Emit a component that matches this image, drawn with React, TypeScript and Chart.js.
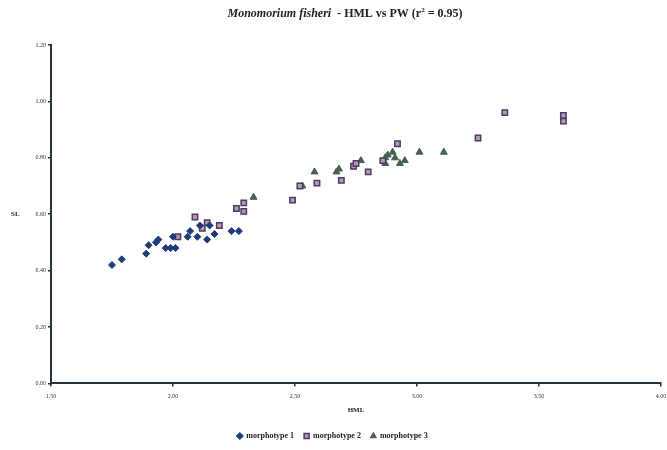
import React, { useEffect, useRef } from "react";
import { Chart, registerables } from "chart.js";

Chart.register(...registerables);

const m1X = [1.75, 1.79, 1.89, 1.90, 1.93, 1.94, 1.97, 1.99, 2.01, 2.00, 2.06, 2.07, 2.10, 2.11, 2.14, 2.15, 2.17, 2.24, 2.27];
const m1Y = [0.42, 0.44, 0.46, 0.49, 0.50, 0.51, 0.48, 0.48, 0.48, 0.52, 0.52, 0.54, 0.52, 0.56, 0.51, 0.56, 0.53, 0.54, 0.54];

const m2X = [2.02, 2.09, 2.12, 2.14, 2.19, 2.26, 2.29, 2.29, 2.49, 2.52, 2.59, 2.69, 2.74, 2.75, 2.80, 2.86, 2.92, 3.25, 3.36, 3.60, 3.60];
const m2Y = [0.52, 0.59, 0.55, 0.57, 0.56, 0.62, 0.64, 0.61, 0.65, 0.70, 0.71, 0.72, 0.77, 0.78, 0.75, 0.79, 0.85, 0.87, 0.96, 0.95, 0.93];

const m3X = [2.33, 2.53, 2.58, 2.68, 2.67, 2.77, 2.87, 2.87, 2.88, 2.90, 2.91, 2.93, 2.95, 3.01, 3.11];
const m3Y = [0.66, 0.70, 0.75, 0.76, 0.75, 0.79, 0.78, 0.80, 0.81, 0.82, 0.80, 0.78, 0.79, 0.82, 0.82];

const seriesNames = ["morphotype 1", "morphotype 2", "morphotype 3"];
const xTitle = "HML";
const yTitle = "SL";

const zip = (xs: number[], ys: number[]) => xs.map((x, i) => ({ x, y: ys[i] }));

const FONT = "'Liberation Serif', 'DejaVu Serif', serif";

const titlePlugin = {
  id: "mixedTitle",
  afterDraw(chart: any) {
    const ctx = chart.ctx;
    ctx.save();
    const parts = [
      { t: "Monomorium fisheri", f: `italic bold 12px ${FONT}`, dy: 0 },
      { t: "  - HML vs PW (r", f: `bold 12px ${FONT}`, dy: 0 },
      { t: "2", f: `bold 7px ${FONT}`, dy: -4 },
      { t: " = 0.95)", f: `bold 12px ${FONT}`, dy: 0 },
    ];
    let total = 0;
    for (const p of parts) {
      ctx.font = p.f;
      total += ctx.measureText(p.t).width;
    }
    let x = 345 - total / 2;
    const y = 14;
    ctx.fillStyle = "#222";
    ctx.textBaseline = "middle";
    for (const p of parts) {
      ctx.font = p.f;
      ctx.fillText(p.t, x, y + p.dy);
      x += ctx.measureText(p.t).width;
    }
    // y axis title
    ctx.font = `bold 7px ${FONT}`;
    ctx.textAlign = "left";
    ctx.fillText(yTitle, 11, chart.scales.y.getPixelForValue(0.6));
    ctx.restore();
  },
};

export default function App() {
  const ref = useRef<HTMLCanvasElement | null>(null);
  useEffect(() => {
    if (!ref.current) return;
    const axisColor = "#24343a";
    const chart = new Chart(ref.current, {
      type: "scatter",
      data: {
        datasets: [
          {
            label: seriesNames[0],
            data: zip(m1X, m1Y),
            pointStyle: "rectRot",
            pointRadius: 3.5,
            backgroundColor: "#1d3c78",
            borderColor: "#1d3c78",
            borderWidth: 1,
          },
          {
            label: seriesNames[1],
            data: zip(m2X, m2Y),
            pointStyle: "rect",
            pointRadius: 3.8,
            backgroundColor: "#b898b0",
            borderColor: "#4a3c62",
            borderWidth: 1.5,
          },
          {
            label: seriesNames[2],
            data: zip(m3X, m3Y),
            pointStyle: "triangle",
            pointRadius: 4,
            backgroundColor: "#475f4e",
            borderColor: "#475f4e",
            borderWidth: 1,
          },
        ],
      },
      options: {
        animation: false,
        responsive: false,
        maintainAspectRatio: false,
        layout: { padding: { top: 45, right: 2, left: 0, bottom: 0 } },
        plugins: {
          title: { display: false },
          tooltip: { enabled: false },
          legend: {
            position: "bottom",
            labels: {
              usePointStyle: true,
              boxWidth: 5,
              boxHeight: 5,
              padding: 10,
              color: "#222",
              font: { family: FONT, size: 8, weight: "bold" },
            },
          },
        },
        scales: {
          x: {
            type: "linear",
            min: 1.5,
            max: 4.0,
            ticks: {
              stepSize: 0.5,
              color: "#333",
              font: { family: FONT, size: 6 },
              padding: 6,
              callback: (v: any) => Number(v).toFixed(2),
            },
            grid: { drawOnChartArea: false, drawTicks: true, tickLength: 3, color: axisColor, lineWidth: 1.5 },
            border: { display: true, color: axisColor, width: 2 },
            title: {
              display: true,
              text: xTitle,
              color: "#222",
              font: { family: FONT, size: 7, weight: "bold" },
              padding: { top: 0, bottom: 8 },
            },
            afterFit: (s: any) => {
              s.paddingRight = 6;
            },
          },
          y: {
            type: "linear",
            min: 0,
            max: 1.2,
            ticks: {
              stepSize: 0.2,
              color: "#333",
              font: { family: FONT, size: 6 },
              padding: 2,
              callback: (v: any) => Number(v).toFixed(2),
            },
            grid: { drawOnChartArea: false, drawTicks: true, tickLength: 3, color: axisColor, lineWidth: 1.5 },
            border: { display: true, color: axisColor, width: 2 },
            afterFit: (s: any) => {
              s.width = 51;
            },
          },
        },
      },
      plugins: [titlePlugin],
    });
    return () => chart.destroy();
  }, []);
  return (
    <div style={{ position: "fixed", left: 0, top: 0, width: 667, height: 450, background: "#fff" }}>
      <canvas ref={ref} width={667} height={450} style={{ width: 667, height: 450 }} />
    </div>
  );
}
